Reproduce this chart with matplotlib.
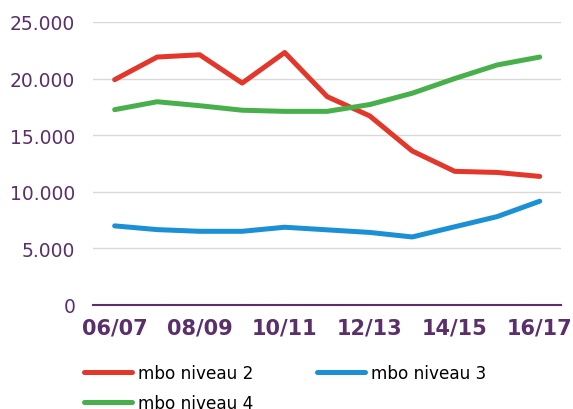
import numpy as np, matplotlib.pyplot as plt
from matplotlib.ticker import FuncFormatter

years = ['06/07', '07/08', '08/09', '09/10', '10/11', '11/12',
         '12/13', '13/14', '14/15', '15/16', '16/17']
niveau2 = [19900, 21900, 22100, 19600, 22300, 18400, 16700, 13600, 11800, 11700, 11350]
niveau3 = [6980, 6650, 6500, 6500, 6860, 6630, 6400, 6000, 6900, 7800, 9160]
niveau4 = [17250, 17950, 17600, 17200, 17100, 17100, 17700, 18700, 20000, 21200, 21900]

purple = '#5b2f6b'

fig = plt.figure(figsize=(5.73, 4.10), dpi=100)
ax = fig.add_axes([0.163, 0.254, 0.816, 0.69])

x = np.arange(len(years))
l2, = ax.plot(x, niveau2, color='#e2372a', lw=3.6, label='mbo niveau 2', solid_capstyle='round')
l3, = ax.plot(x, niveau3, color='#1b90d4', lw=3.6, label='mbo niveau 3', solid_capstyle='round')
l4, = ax.plot(x, niveau4, color='#47b04b', lw=3.6, label='mbo niveau 4', solid_capstyle='round')

ax.set_xlim(-0.5, 10.5)
ax.set_ylim(0, 25000)
ax.set_yticks(np.arange(0, 25001, 5000))
ax.yaxis.set_major_formatter(FuncFormatter(lambda v, p: f'{int(v):,}'.replace(',', '.')))
ax.set_xticks(x[::2])
ax.set_xticklabels(years[::2], fontweight='bold')

ax.grid(axis='y', color='#d9d9d9', lw=1)
ax.set_axisbelow(True)
for s in ['top', 'right', 'left']:
    ax.spines[s].set_visible(False)
ax.spines['bottom'].set_color(purple)
ax.spines['bottom'].set_linewidth(1.5)
ax.tick_params(length=0, colors=purple)
ax.tick_params(axis='x', pad=9, labelsize=15)
ax.tick_params(axis='y', pad=13, labelsize=13.5)

# row-wise order: niveau 2, niveau 3 / niveau 4
leg = fig.legend([l2, l4, l3], ['mbo niveau 2', 'mbo niveau 4', 'mbo niveau 3'],
                 loc='upper left', bbox_to_anchor=(0.135, 0.127), ncol=2, frameon=False,
                 fontsize=12.2, handlelength=2.8, columnspacing=3.75, handletextpad=0.4,
                 labelspacing=0.72, borderaxespad=0)

plt.savefig('out.png', dpi=100)
